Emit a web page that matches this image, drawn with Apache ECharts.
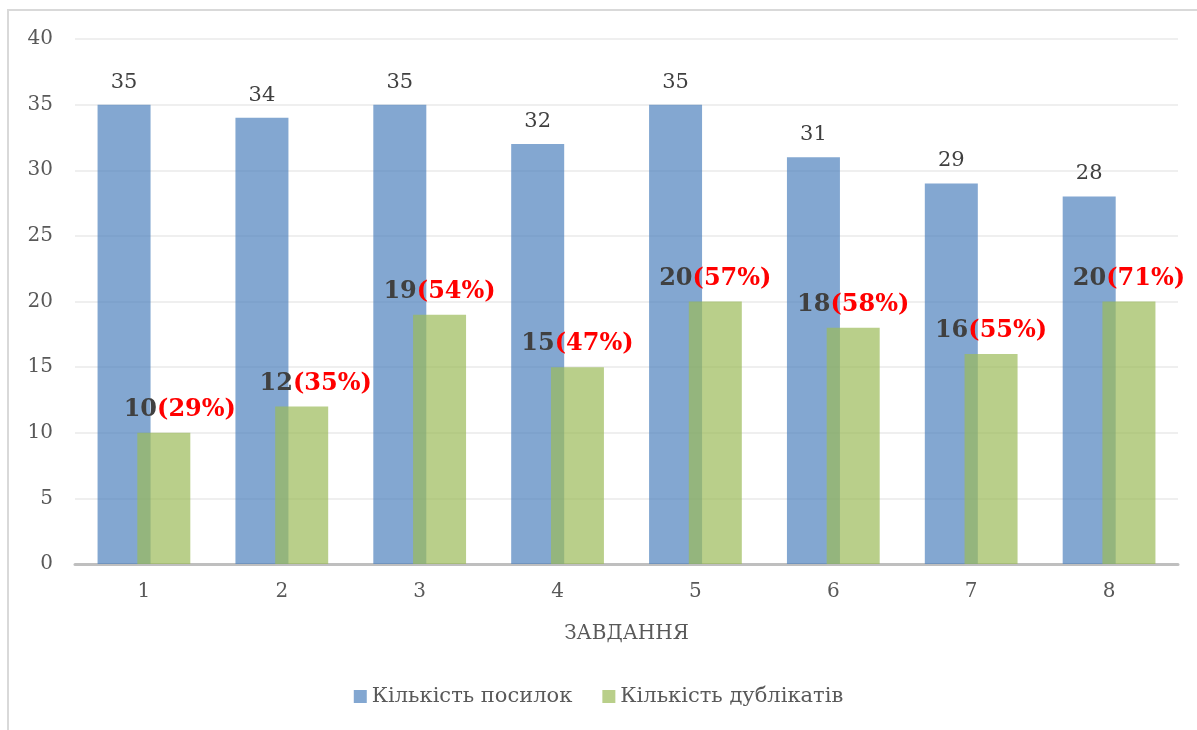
<!DOCTYPE html>
<html lang="uk">
<head>
  <meta charset="UTF-8">
  <title>Кількість посилок і дублікатів</title>
  <style>
    html, body { margin: 0; padding: 0; background: #fff; }
    #frame { position: absolute; left: 7px; top: 9px; width: 1190px; height: 721px;
             border-left: 2px solid #d9d9d9; border-top: 2px solid #d9d9d9; box-sizing: border-box; }
    #chart { position: absolute; left: 0; top: 0; width: 1197px; height: 730px; }
  </style>
</head>
<body>
<div id="frame"></div>
<div id="chart"></div>
<script src="https://cdn.jsdelivr.net/npm/echarts@6/dist/echarts.min.js"></script>
<script>
  // дані з діаграми
  var tasks = ['1', '2', '3', '4', '5', '6', '7', '8'];
  var submissions = [35, 34, 35, 32, 35, 31, 29, 28];
  var duplicates = [10, 12, 19, 15, 20, 18, 16, 20];
  var yTicks = [0, 5, 10, 15, 20, 25, 30, 35, 40];

  var font = 'DejaVu Serif';

  var myChart = echarts.init(document.getElementById('chart'));

  // підпис дублікатів: число + відсоток від посилок
  function dupLabel(p) {
    var pct = Math.round(duplicates[p.dataIndex] / submissions[p.dataIndex] * 100);
    return '{n|' + p.value + '}{p|(' + pct + '%)}';
  }

  var dupData = duplicates.map(function (v, i) {
    // перші дві мітки в оригіналі трохи зсунуті праворуч
    var dx = i === 0 ? 16 : (i === 1 ? 14 : 0);
    return { value: v, label: { offset: [dx, 0] } };
  });

  var option = {
    animation: false,
    textStyle: { fontFamily: font },
    grid: { left: 75, right: 19, top: 39, bottom: 166 },
    legend: {
      bottom: 18,
      left: 'center',
      itemWidth: 13,
      itemHeight: 13,
      itemGap: 30,
      icon: 'rect',
      textStyle: { fontFamily: font, fontSize: 21, color: '#595959' },
      data: ['Кількість посилок', 'Кількість дублікатів']
    },
    xAxis: {
      type: 'category',
      data: tasks,
      name: 'ЗАВДАННЯ',
      nameLocation: 'middle',
      nameGap: 60,
      nameTextStyle: { fontFamily: font, fontSize: 20, color: '#595959' },
      axisLine: { lineStyle: { color: '#bfbfbf', width: 3 } },
      axisTick: { show: false },
      axisLabel: { fontFamily: font, fontSize: 20, color: '#595959', margin: 18 }
    },
    yAxis: {
      type: 'value',
      min: yTicks[0],
      max: yTicks[yTicks.length - 1],
      interval: 5,
      axisLine: { show: false },
      axisTick: { show: false },
      axisLabel: { fontFamily: font, fontSize: 20, color: '#595959', margin: 22 },
      splitLine: { lineStyle: { color: '#efefef', width: 2 } }
    },
    series: [
      {
        name: 'Кількість посилок',
        type: 'bar',
        data: submissions,
        barWidth: 53,
        barGap: '-25%',
        itemStyle: { color: 'rgba(79,129,189,0.7)' },
        label: {
          show: true,
          position: 'top',
          distance: 12,
          fontFamily: font,
          fontSize: 21,
          color: '#404040'
        }
      },
      {
        name: 'Кількість дублікатів',
        type: 'bar',
        data: dupData,
        barWidth: 53,
        itemStyle: { color: 'rgba(155,187,89,0.7)' },
        label: {
          show: true,
          position: 'top',
          distance: 11,
          formatter: dupLabel,
          rich: {
            n: { fontFamily: font, fontSize: 24, fontWeight: 'bold', color: '#404040' },
            p: { fontFamily: font, fontSize: 24, fontWeight: 'bold', color: '#ff0000' }
          }
        }
      }
    ]
  };

  myChart.setOption(option);
  window.addEventListener('resize', function () {
    myChart.resize();
  });
</script>
</body>
</html>
